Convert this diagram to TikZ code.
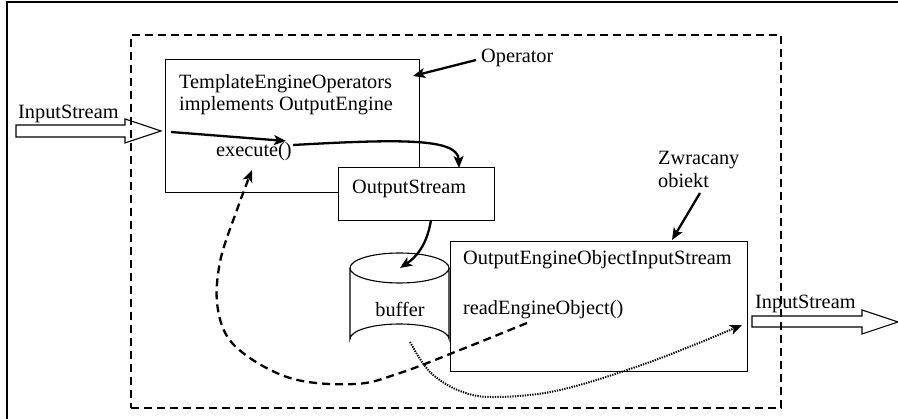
\documentclass[tikz,border=0pt]{standalone}
\usepackage{fontspec}
\setmainfont{Liberation Serif}
\usetikzlibrary{arrows.meta}
\begin{document}
\begin{tikzpicture}[x=1pt,y=-1pt,
  lbl/.style={inner sep=0pt,anchor=base west,font=\fontsize{20.3}{22}\selectfont},
  boxnode/.style={draw,line width=1.1pt,fill=white,inner sep=0pt,anchor=north west},
  tip/.style={-{Stealth[length=12pt,width=10pt,inset=3pt]}},
  thickarrow/.style={line width=2.3pt,tip},
  hollow/.style={draw,line width=1.1pt,line join=miter},
  frame/.style={line width=1.1pt}]
\useasboundingbox (0,0) rectangle (898,419);
% outer frame
\coordinate (fa) at (7,419);
\coordinate (fb) at (7,2);
\coordinate (fc) at (898,2);
\draw[frame] (fa) -- (fb) -- (fc);
% dashed container
\node[draw,line width=2.2pt,dash pattern=on 8pt off 5pt,inner sep=0pt,anchor=north west,
  minimum width=650pt,minimum height=373pt] (cont) at (130,34) {};
% TemplateEngine box
\node[boxnode,minimum width=254pt,minimum height=133pt] (tpl) at (165,59) {};
\node[lbl] (tpl1) at (179,89) {TemplateEngineOperators};
\node[lbl] (tpl2) at (179,111) {implements OutputEngine};
\node[lbl] (exec) at (216,157) {execute()};
% OutputStream box
\node[boxnode,minimum width=156pt,minimum height=53pt] (os) at (338,167) {};
\node[lbl] (ostxt) at (352,194) {OutputStream};
% buffer cylinder
\coordinate (bufc) at (399.5,268);
\coordinate (bufb) at (399.5,339);
\filldraw[line width=1.1pt,fill=white] (350,268) -- (350,339) arc[start angle=180,end angle=360,x radius=49.5,y radius=15] -- (449,268);
\draw[line width=1.1pt] (bufc) ellipse[x radius=49.5,y radius=15];
\node[lbl,anchor=base] (buftxt) at (400,317) {buffer};
% OEOIS box
\node[boxnode,minimum width=297pt,minimum height=130pt] (oe) at (450,241) {};
\node[lbl] (oe1) at (463,265) {OutputEngineObjectInputStream};
\node[lbl] (oe2) at (463,315) {readEngineObject()};
% labels
\node[lbl] (oplbl) at (481,63) {Operator};
\node[lbl] (zw1) at (658,165) {Zwracany};
\node[lbl] (zw2) at (658,188) {obiekt};
\node[lbl] (inL) at (18,119) {InputStream};
\node[lbl] (inR) at (755,309) {InputStream};
% hollow arrows
\draw[hollow] (16,125) -- (125,125) -- (125,119) -- (161,131) -- (125,143) -- (125,137) -- (16,137) -- cycle;
\draw[hollow] (752,316) -- (862,316) -- (862,310) -- (898,322) -- (862,334) -- (862,327) -- (752,327) -- cycle;
% coordinates for connectors
\coordinate (opS) at (476,60);
\coordinate (opT) at (413,76);
\coordinate (zwS) at (700,193);
\coordinate (zwT) at (672,240);
\coordinate (e1) at (171,132);
\coordinate (e2) at (286,141);
\coordinate (e3) at (293,145);
\coordinate (osT) at (459,168);
\coordinate (osB) at (431,220);
\coordinate (bufT) at (400,268);
\draw[thickarrow] (opS) -- (opT);
\draw[thickarrow] (zwS) -- (zwT);
\draw[thickarrow] (e1) -- (e2);
\draw[thickarrow] (e3) .. controls (400,139) and (458,138) .. (osT);
\draw[thickarrow] (osB) .. controls (427,246) and (415,258) .. (bufT);
% dashed curve
\draw[line width=2.3pt,dash pattern=on 8pt off 5pt,tip]
  plot[smooth,tension=0.6] coordinates {(527,323) (460,350) (400,373) (355,384) (290,378) (236,347) (218,310) (220,262) (238,207) (252,170)};
% dotted curve
\draw[line width=2pt,dash pattern=on 1.3pt off 1.2pt,tip]
  plot[smooth,tension=0.6] coordinates {(410,342) (430,372) (460,391) (495,397) (560,390) (650,362) (742,325)};
\end{tikzpicture}
\end{document}
